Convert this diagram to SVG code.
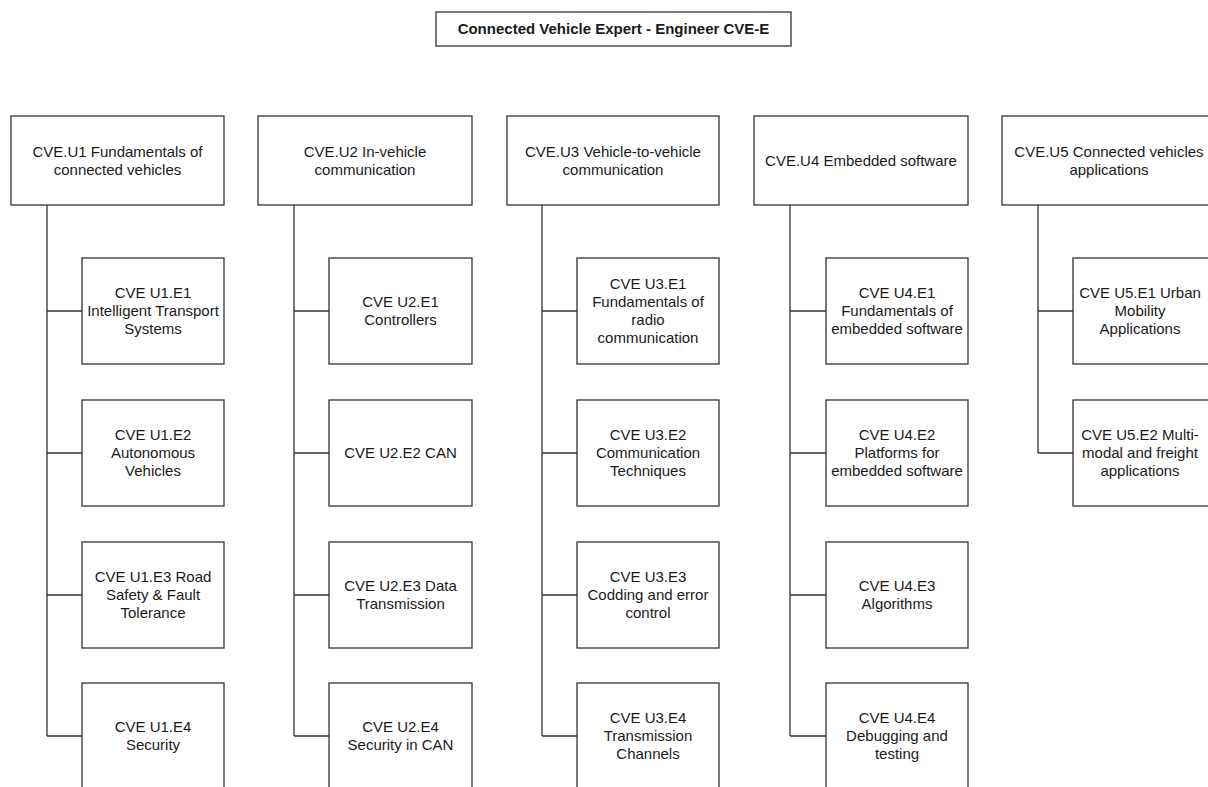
<svg xmlns="http://www.w3.org/2000/svg" width="1208" height="787" viewBox="0 0 1208 787">
<style>
.box{fill:#fff;stroke:#333;stroke-width:1.3}
.t{font-family:"Liberation Sans",Arial,Helvetica,sans-serif;font-size:15px;fill:#1a1a1a;text-anchor:middle}
.tb{font-weight:bold}
.c{fill:none;stroke:#333;stroke-width:1.3}
</style>
<rect width="1208" height="787" fill="#fff"/>
<g id="connectors">
<path class="c" d="M47 205V736M47 311H82M47 453H82M47 595H82M47 736H82"/>
<path class="c" d="M294 205V736M294 311H329M294 453H329M294 595H329M294 736H329"/>
<path class="c" d="M542 205V736M542 311H577M542 453H577M542 595H577M542 736H577"/>
<path class="c" d="M790 205V736M790 311H826M790 453H826M790 595H826M790 736H826"/>
<path class="c" d="M1038 205V453M1038 311H1073M1038 453H1073"/>
</g>
<g id="title"><rect class="box" x="436" y="12" width="355" height="34"/><text class="t tb" x="613.5" y="34">Connected Vehicle Expert - Engineer CVE-E</text></g>

<g id="u1"><rect class="box" x="11" y="116" width="213" height="89"/><text class="t" x="117.5" y="157"><tspan x="117.5">CVE.U1 Fundamentals of</tspan><tspan x="117.5" dy="18">connected vehicles</tspan></text></g>
<g id="u1e1"><rect class="box" x="82" y="258" width="142" height="106"/><text class="t" x="153" y="298"><tspan x="153">CVE U1.E1</tspan><tspan x="153" dy="18">Intelligent Transport</tspan><tspan x="153" dy="18">Systems</tspan></text></g>
<g id="u1e2"><rect class="box" x="82" y="400" width="142" height="106"/><text class="t" x="153" y="440"><tspan x="153">CVE U1.E2</tspan><tspan x="153" dy="18">Autonomous</tspan><tspan x="153" dy="18">Vehicles</tspan></text></g>
<g id="u1e3"><rect class="box" x="82" y="542" width="142" height="106"/><text class="t" x="153" y="582"><tspan x="153">CVE U1.E3 Road</tspan><tspan x="153" dy="18">Safety &amp; Fault</tspan><tspan x="153" dy="18">Tolerance</tspan></text></g>
<g id="u1e4"><rect class="box" x="82" y="683" width="142" height="106"/><text class="t" x="153" y="732"><tspan x="153">CVE U1.E4</tspan><tspan x="153" dy="18">Security</tspan></text></g>

<g id="u2"><rect class="box" x="258" y="116" width="214" height="89"/><text class="t" x="365" y="157"><tspan x="365">CVE.U2 In-vehicle</tspan><tspan x="365" dy="18">communication</tspan></text></g>
<g id="u2e1"><rect class="box" x="329" y="258" width="143" height="106"/><text class="t" x="400.5" y="307"><tspan x="400.5">CVE U2.E1</tspan><tspan x="400.5" dy="18">Controllers</tspan></text></g>
<g id="u2e2"><rect class="box" x="329" y="400" width="143" height="106"/><text class="t" x="400.5" y="458">CVE U2.E2 CAN</text></g>
<g id="u2e3"><rect class="box" x="329" y="542" width="143" height="106"/><text class="t" x="400.5" y="591"><tspan x="400.5">CVE U2.E3 Data</tspan><tspan x="400.5" dy="18">Transmission</tspan></text></g>
<g id="u2e4"><rect class="box" x="329" y="683" width="143" height="106"/><text class="t" x="400.5" y="732"><tspan x="400.5">CVE U2.E4</tspan><tspan x="400.5" dy="18">Security in CAN</tspan></text></g>

<g id="u3"><rect class="box" x="507" y="116" width="212" height="89"/><text class="t" x="613" y="157"><tspan x="613">CVE.U3 Vehicle-to-vehicle</tspan><tspan x="613" dy="18">communication</tspan></text></g>
<g id="u3e1"><rect class="box" x="577" y="258" width="142" height="106"/><text class="t" x="648" y="289"><tspan x="648">CVE U3.E1</tspan><tspan x="648" dy="18">Fundamentals of</tspan><tspan x="648" dy="18">radio</tspan><tspan x="648" dy="18">communication</tspan></text></g>
<g id="u3e2"><rect class="box" x="577" y="400" width="142" height="106"/><text class="t" x="648" y="440"><tspan x="648">CVE U3.E2</tspan><tspan x="648" dy="18">Communication</tspan><tspan x="648" dy="18">Techniques</tspan></text></g>
<g id="u3e3"><rect class="box" x="577" y="542" width="142" height="106"/><text class="t" x="648" y="582"><tspan x="648">CVE U3.E3</tspan><tspan x="648" dy="18">Codding and error</tspan><tspan x="648" dy="18">control</tspan></text></g>
<g id="u3e4"><rect class="box" x="577" y="683" width="142" height="106"/><text class="t" x="648" y="723"><tspan x="648">CVE U3.E4</tspan><tspan x="648" dy="18">Transmission</tspan><tspan x="648" dy="18">Channels</tspan></text></g>

<g id="u4"><rect class="box" x="754" y="116" width="214" height="89"/><text class="t" x="861" y="166">CVE.U4 Embedded software</text></g>
<g id="u4e1"><rect class="box" x="826" y="258" width="142" height="106"/><text class="t" x="897" y="298"><tspan x="897">CVE U4.E1</tspan><tspan x="897" dy="18">Fundamentals of</tspan><tspan x="897" dy="18">embedded software</tspan></text></g>
<g id="u4e2"><rect class="box" x="826" y="400" width="142" height="106"/><text class="t" x="897" y="440"><tspan x="897">CVE U4.E2</tspan><tspan x="897" dy="18">Platforms for</tspan><tspan x="897" dy="18">embedded software</tspan></text></g>
<g id="u4e3"><rect class="box" x="826" y="542" width="142" height="106"/><text class="t" x="897" y="591"><tspan x="897">CVE U4.E3</tspan><tspan x="897" dy="18">Algorithms</tspan></text></g>
<g id="u4e4"><rect class="box" x="826" y="683" width="142" height="106"/><text class="t" x="897" y="723"><tspan x="897">CVE U4.E4</tspan><tspan x="897" dy="18">Debugging and</tspan><tspan x="897" dy="18">testing</tspan></text></g>

<g id="u5"><rect class="box" x="1002" y="116" width="214" height="89"/><text class="t" x="1109" y="157"><tspan x="1109">CVE.U5 Connected vehicles</tspan><tspan x="1109" dy="18">applications</tspan></text></g>
<g id="u5e1"><rect class="box" x="1073" y="258" width="142" height="106"/><text class="t" x="1140" y="298"><tspan x="1140">CVE U5.E1 Urban</tspan><tspan x="1140" dy="18">Mobility</tspan><tspan x="1140" dy="18">Applications</tspan></text></g>
<g id="u5e2"><rect class="box" x="1073" y="400" width="142" height="106"/><text class="t" x="1140" y="440"><tspan x="1140">CVE U5.E2 Multi-</tspan><tspan x="1140" dy="18">modal and freight</tspan><tspan x="1140" dy="18">applications</tspan></text></g>
</svg>
